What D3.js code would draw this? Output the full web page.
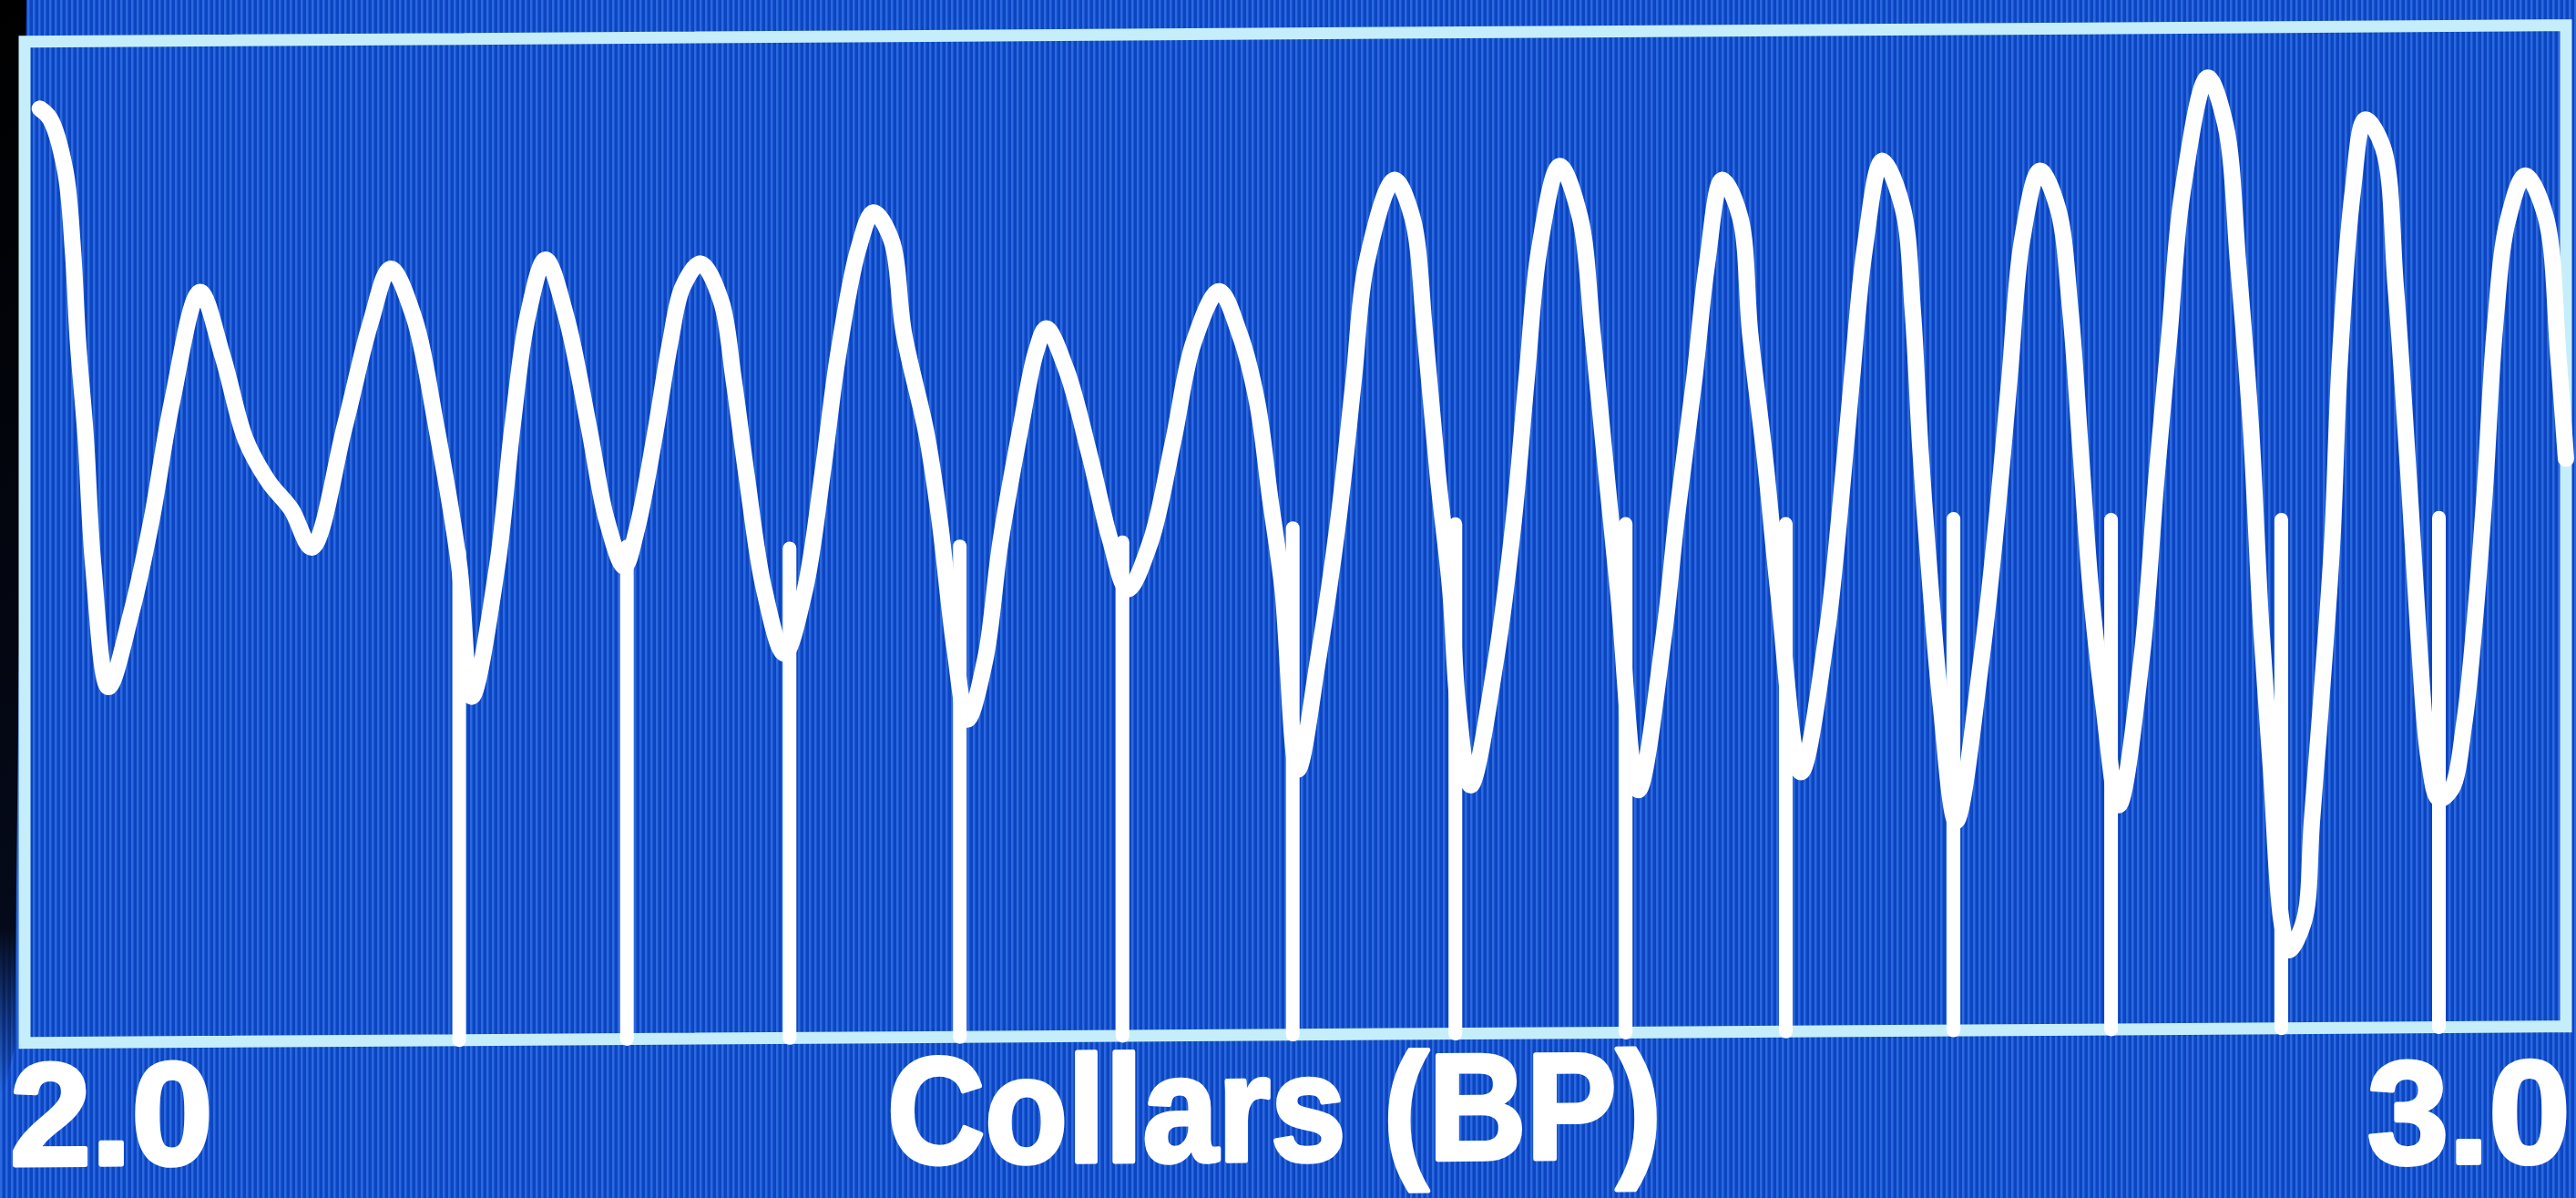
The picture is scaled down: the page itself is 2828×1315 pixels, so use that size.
<!DOCTYPE html>
<html>
<head>
<meta charset="utf-8">
<script src="https://cdn.jsdelivr.net/npm/d3@7/dist/d3.min.js"></script>
<style>
    html, body { margin: 0; padding: 0; background: #0d44bd; overflow: hidden; }
</style>
</head>
<body>
<div id="scope"></div>
<script>
// trace, x in BP, y in % of the screen height
const traceX = [2.006, 2.010, 2.016, 2.019, 2.021, 2.024, 2.027, 2.033, 2.042, 2.050,
    2.058, 2.069, 2.078, 2.087, 2.096, 2.105, 2.113, 2.126, 2.136, 2.144,
    2.153, 2.162, 2.171, 2.176, 2.186, 2.192, 2.198, 2.205, 2.213, 2.222,
    2.229, 2.236, 2.241, 2.248, 2.254, 2.259, 2.266, 2.274, 2.279, 2.284,
    2.291, 2.299, 2.307, 2.314, 2.320, 2.328, 2.334, 2.341, 2.346, 2.355,
    2.360, 2.366, 2.371, 2.378, 2.384, 2.392, 2.398, 2.402, 2.410, 2.419,
    2.427, 2.434, 2.443, 2.452, 2.460, 2.470, 2.478, 2.485, 2.490, 2.495,
    2.501, 2.509, 2.517, 2.523, 2.528, 2.539, 2.546, 2.551, 2.556, 2.561,
    2.564, 2.569, 2.579, 2.586, 2.591, 2.596, 2.604, 2.612, 2.617, 2.622,
    2.627, 2.635, 2.645, 2.650, 2.657, 2.662, 2.668, 2.675, 2.679, 2.685,
    2.690, 2.699, 2.709, 2.714, 2.719, 2.724, 2.731, 2.739, 2.743, 2.746,
    2.750, 2.754, 2.760, 2.770, 2.776, 2.781, 2.786, 2.793, 2.800, 2.805,
    2.809, 2.813, 2.818, 2.824, 2.833, 2.839, 2.844, 2.849, 2.859, 2.866,
    2.871, 2.876, 2.880, 2.884, 2.888, 2.891, 2.897, 2.900, 2.904, 2.908,
    2.911, 2.916, 2.921, 2.928, 2.933, 2.938, 2.942, 2.946, 2.950, 2.955,
    2.960, 2.964, 2.968, 2.972, 2.977, 2.984, 2.992, 2.997, 3.000];

const traceY = [93.3, 92.3, 87.1, 79.2, 70.0, 60.6, 47.7, 35.5, 42.9, 52.2,
    63.9, 74.9, 68.4, 60.1, 55.9, 53.1, 49.3, 61.4, 71.6, 77.1,
    72.4, 61.3, 47.4, 34.3, 47.4, 61.3, 72.3, 77.9, 72.3, 61.2,
    51.9, 47.2, 51.0, 60.3, 69.5, 75.1, 77.4, 73.7, 65.8, 56.4,
    44.8, 38.4, 44.7, 56.4, 68.0, 78.7, 82.4, 79.7, 70.3, 60.1,
    51.7, 38.7, 31.7, 37.7, 49.4, 60.9, 68.4, 70.7, 66.5, 58.1,
    49.7, 44.6, 49.3, 59.4, 69.2, 74.3, 70.1, 63.2, 53.8, 44.5,
    26.5, 37.5, 51.5, 65.4, 77.0, 85.3, 81.6, 70.0, 56.0, 44.3,
    32.8, 24.8, 37.4, 51.3, 65.3, 78.3, 86.6, 81.5, 69.8, 56.9,
    44.2, 24.2, 39.6, 51.2, 65.2, 76.7, 85.1, 81.4, 69.7, 56.8,
    44.1, 25.9, 39.5, 51.1, 65.1, 78.0, 86.9, 82.2, 71.8, 58.0,
    44.1, 32.5, 20.9, 37.1, 51.0, 65.0, 78.9, 85.8, 82.1, 71.8,
    57.9, 44.0, 32.4, 22.4, 37.0, 55.5, 69.5, 83.4, 95.0, 90.3,
    76.4, 60.1, 40.4, 25.6, 10.8, 7.8, 10.8, 20.6, 33.8, 48.5,
    66.6, 83.3, 90.7, 87.9, 74.0, 55.4, 39.1, 26.8, 22.8, 23.8,
    30.4, 40.2, 53.3, 69.7, 80.4, 85.0, 80.9, 66.9, 56.7];

// collar markers (the vertical spikes)
const collarX = [2.171, 2.237, 2.301, 2.368, 2.432, 2.499, 2.563, 2.630, 2.693, 2.759, 2.821, 2.888, 2.950];
const collarTop = [48.7, 49.2, 48.9, 49.0, 49.3, 50.6, 50.9, 50.8, 50.7, 51.1, 50.9, 50.8, 50.9];

const xTickLabels = ["2.0", "3.0"];
const xTickValues = [2.0, 3.0];
const axisTitle = "Collars (BP)";

const width = 2828;
const height = 1315;
const frame = { left: 27, right: 2817, top: 46, bottom: 1145 };
const tilt = -0.0065; // the photographed screen leans a little

const svg = d3.select("#scope")
    .append("svg")
        .attr("width", width)
        .attr("height", height)
        .style("display", "block");

// crt scan lines
const defs = svg.append("defs");
const scan = defs.append("pattern")
    .attr("id", "scan")
    .attr("patternUnits", "userSpaceOnUse")
    .attr("width", 6)
    .attr("height", 10);
scan.append("rect").attr("width", 6).attr("height", 10).attr("fill", "#0c45c2");
scan.append("rect").attr("width", 2.5).attr("height", 10).attr("fill", "#3f80f2").attr("opacity", 0.6);

const fade = defs.append("linearGradient")
    .attr("id", "bezel")
    .attr("x1", 0).attr("y1", 0).attr("x2", 0).attr("y2", 1);
fade.append("stop").attr("offset", "0%").attr("stop-color", "#000");
fade.append("stop").attr("offset", "85%").attr("stop-color", "#050a1a");
fade.append("stop").attr("offset", "100%").attr("stop-color", "#050a1a").attr("stop-opacity", 0);

svg.append("rect")
    .attr("width", width)
    .attr("height", height)
    .attr("fill", "url(#scan)");

// dark bezel edge at the left
svg.append("path")
    .attr("d", "M0,0 L29,0 L16,1150 L4,1200 L0,1200 Z")
    .attr("fill", "url(#bezel)");

const chart = svg.append("g")
    .attr("transform", `matrix(1, ${tilt}, 0, 1, 0, 0)`);

const x = d3.scaleLinear()
    .domain([2.0, 3.0])
    .range([frame.left, frame.right]);

const y = d3.scaleLinear()
    .domain([0, 100])
    .range([frame.bottom, frame.top]);

// frame
chart.append("rect")
    .attr("x", x(2.0))
    .attr("y", y(100))
    .attr("width", x(3.0) - x(2.0))
    .attr("height", y(0) - y(100))
    .attr("fill", "none")
    .attr("stroke", "#c6eefa")
    .attr("stroke-width", 13);

// collar spikes
chart.selectAll("line.collar")
    .data(collarX)
    .join("line")
        .attr("class", "collar")
        .attr("x1", d => x(d))
        .attr("x2", d => x(d))
        .attr("y1", y(0))
        .attr("y2", (d, i) => y(collarTop[i]))
        .attr("stroke", "#fff")
        .attr("stroke-width", 15)
        .attr("stroke-linecap", "round");

// trace
const points = traceX.map((d, i) => [d, traceY[i]]);
chart.append("path")
    .datum(points)
    .attr("fill", "none")
    .attr("stroke", "#fff")
    .attr("stroke-width", 18)
    .attr("stroke-linejoin", "round")
    .attr("stroke-linecap", "round")
    .attr("d", d3.line()
        .x(d => x(d[0]))
        .y(d => y(d[1]))
        .curve(d3.curveCatmullRom.alpha(0.5)));

// labels under the frame
const labelStyle = sel => sel
    .attr("font-family", "'Liberation Sans', Arial, sans-serif")
    .attr("font-weight", "bold")
    .attr("font-size", 160)
    .attr("fill", "#fff")
    .attr("stroke", "#fff")
    .attr("stroke-width", 5)
    .attr("stroke-linejoin", "round");

chart.selectAll("text.tick")
    .data(xTickLabels)
    .join("text")
        .attr("class", "tick")
        .attr("x", (d, i) => i === 0 ? x(xTickValues[i]) - 16 : x(xTickValues[i]) - 218)
        .attr("y", (d, i) => i === 0 ? 1279 : 1294)
        .text(d => d)
        .call(labelStyle);

chart.append("text")
    .attr("x", 974)
    .attr("y", 1283)
    .attr("textLength", 850)
    .attr("lengthAdjust", "spacingAndGlyphs")
    .text(axisTitle)
    .call(labelStyle)
    .attr("font-size", 166);
</script>
</body>
</html>
